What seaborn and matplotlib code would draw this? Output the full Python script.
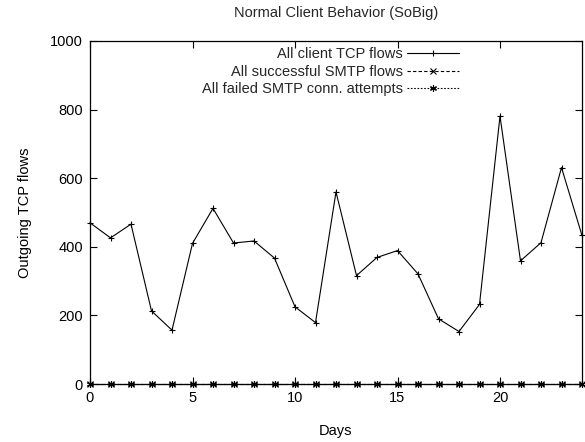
import matplotlib
matplotlib.use("Agg")
import matplotlib.pyplot as plt
import seaborn as sns
import pandas as pd

days = list(range(25))
client_tcp = [470, 426, 466, 213, 157, 410, 512, 411, 417, 367, 225, 179, 560, 316,
              369, 389, 321, 190, 153, 232, 781, 359, 412, 631, 433]
smtp_ok = [0] * 25
smtp_failed = [0] * 25
labels = ["All client TCP flows", "All successful SMTP flows", "All failed SMTP conn. attempts"]

sns.set_theme(style="white")
plt.rcParams['font.family'] = ['Liberation Sans', 'DejaVu Sans']

fig = plt.figure(figsize=(5.85, 4.42), dpi=100)
ax = fig.add_axes([90/585, 1 - 384/442, (582-90)/585, (384-41)/442])

df = pd.DataFrame({"day": days, "tcp": client_tcp, "ok": smtp_ok, "fail": smtp_failed})
styles = [("tcp", "-", "+"), ("ok", (0, (3, 2)), "x"), ("fail", (0, (1.5, 1.5)), (6, 2, 0))]
for (col, ls, mk), lab in zip(styles, labels):
    sns.lineplot(data=df, x="day", y=col, ax=ax, color="black", linewidth=0.8,
                 linestyle=ls, marker=mk, markersize=5, markeredgewidth=0.8,
                 markerfacecolor="black", markeredgecolor="black", label=lab,
                 clip_on=False)

ax.set_xlim(0, 24)
ax.set_ylim(0, 1000)
ax.set_xticks([0, 5, 10, 15, 20])
ax.set_yticks([0, 200, 400, 600, 800, 1000])
ax.tick_params(direction="in", length=5, width=0.8, top=True, right=True,
               labelsize=10.5, colors="black", pad=5, bottom=True, left=True)
for s in ax.spines.values():
    s.set_color("black")
    s.set_linewidth(0.9)
ax.set_xlabel("Days", fontsize=10.5, color="black", labelpad=14)
ax.set_ylabel("Outgoing TCP flows", fontsize=10.5, color="black", labelpad=13)
fig.text(0.5 * (90 + 582) / 585, 1 - 13/442, "Normal Client Behavior (SoBig)",
         ha="center", va="center", fontsize=10.5)

leg = ax.legend(loc="upper right", bbox_to_anchor=(459/585, 1 - 47/442),
                bbox_transform=fig.transFigure, frameon=False, markerfirst=False,
                fontsize=10.5, handlelength=3.6, handletextpad=0.25, labelspacing=0.25,
                borderaxespad=0, borderpad=0)
for t in leg.get_texts():
    t.set_ha("right")

fig.savefig("out.png", dpi=100)
